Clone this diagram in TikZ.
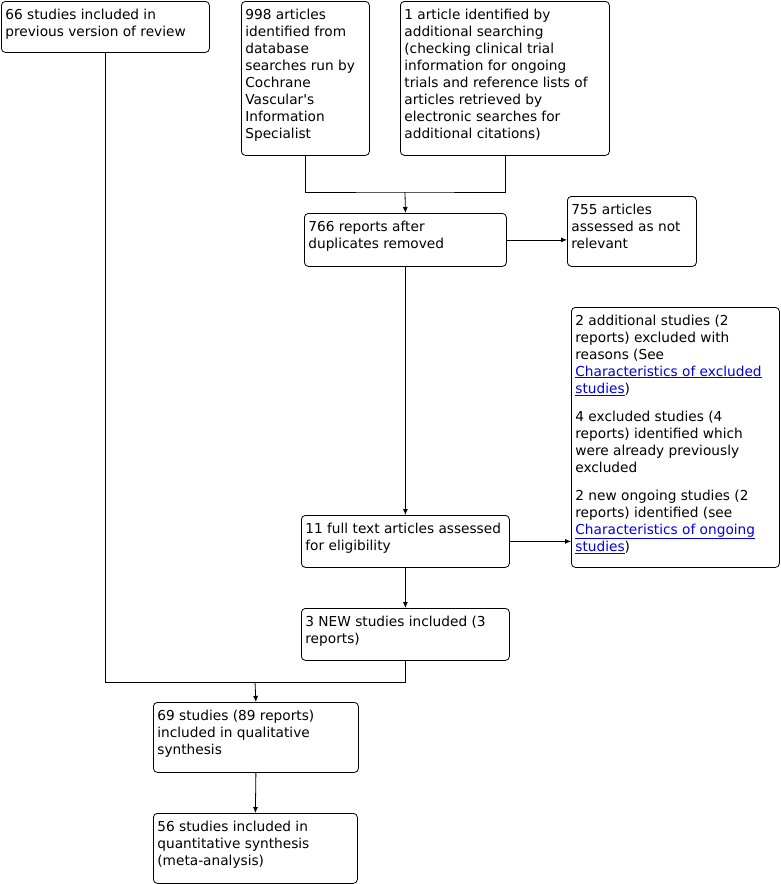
\documentclass[tikz,border=0pt]{standalone}
\usepackage{fontspec}
\setmainfont{DejaVu Sans}[Ligatures=TeXOff]
\usetikzlibrary{arrows.meta,positioning}
\definecolor{linkblue}{RGB}{0,0,230}

\newcommand{\lnk}[1]{\textcolor{linkblue}{\underline{#1}}}
% box: name, x, y, width, height, text
\newcommand{\flowbox}[6]{%
  \node[box,anchor=north west] (#1) at (#2,#3)
    {\parbox[t][\dimexpr#5pt-8pt\relax][t]{\dimexpr#4pt-8pt\relax}{\rule{0pt}{13.7pt}#6}};}

\begin{document}
\begin{tikzpicture}[x=1pt,y=-1pt,line width=.8pt,
  box/.style={draw,rounded corners=4pt,inner sep=4pt,font=\fontsize{13.7}{17}\selectfont},
  arr/.style={-{Latex[length=6pt,width=5pt]}}]
\useasboundingbox (0,0) rectangle (781,884);

\flowbox{prev}{1}{1}{208}{51}{66 studies included in\\previous version of review}
\flowbox{db}{241}{1}{128}{154}{998 articles\\identified from\\database\\searches run by\\Cochrane\\Vascular's\\Information\\Specialist}
\flowbox{extra}{400}{1}{209}{154}{1 article identified by\\additional searching\\(checking clinical trial\\information for ongoing\\trials and reference lists of\\articles retrieved by\\electronic searches for\\additional citations)}
\flowbox{dedup}{304}{213}{202}{53}{766 reports after\\duplicates removed}
\flowbox{notrel}{567}{196}{129}{70}{755 articles\\assessed as not\\relevant}
\flowbox{excl}{571}{307}{208}{260}{2 additional studies (2\\reports) excluded with\\reasons (See\\\lnk{Characteristics of excluded}\\\lnk{studies})\\[11pt]4 excluded studies (4\\reports) identified which\\were already previously\\excluded\\[11pt]2 new ongoing studies (2\\reports) identified (see\\\lnk{Characteristics of ongoing}\\\lnk{studies})}
\flowbox{full}{301}{515}{208}{52}{11 full text articles assessed\\for eligibility}
\flowbox{new}{301}{608}{208}{52}{3 NEW studies included (3\\reports)}
\flowbox{qual}{153}{702}{205}{70}{69 studies (89 reports)\\included in qualitative\\synthesis}
\flowbox{quant}{153}{813}{204}{70}{56 studies included in\\quantitative synthesis\\(meta-analysis)}

\coordinate (merge) at (405,192);
\coordinate (join) at (255,682);

\draw (db.south) |- (merge) -| (extra.south);
\draw[arr] (merge) -- (dedup.north);
\draw[arr] (dedup.east) -- (dedup.east -| notrel.west);
\draw[arr] (dedup.south) -- (full.north);
\draw[arr] (full.east) -- (full.east -| excl.west);
\draw[arr] (full.south) -- (new.north);
\draw (new.south) |- (join);
\draw (prev.south) |- (join);
\draw[arr] (join) -- (qual.north);
\draw[arr] (qual.south) -- (quant.north);
\end{tikzpicture}
\end{document}
